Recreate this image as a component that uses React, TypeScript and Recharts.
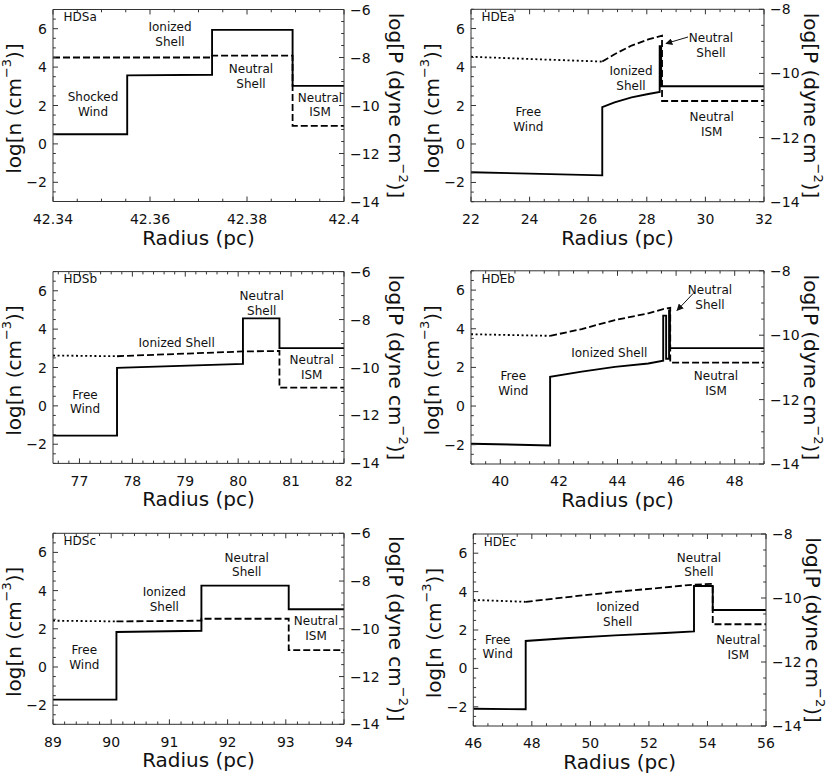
import React from 'react';
import { ComposedChart, Line, XAxis, YAxis, ReferenceLine } from 'recharts';

type Pt = { r: number; v: number };

// log n (left axis) and log P (right axis) against radius
const hdsaDensity: Pt[] = [
  { r: 42.34, v: 0.5 }, { r: 42.3553, v: 0.5 }, { r: 42.3553, v: 3.57 }, { r: 42.3728, v: 3.6 },
  { r: 42.3728, v: 5.94 }, { r: 42.3894, v: 5.94 }, { r: 42.3894, v: 3.02 }, { r: 42.4, v: 3.02 },
];
const hdsaShellP: Pt[] = [
  { r: 42.34, v: -8.0 }, { r: 42.3728, v: -8.0 }, { r: 42.3728, v: -7.92 }, { r: 42.3894, v: -7.92 },
  { r: 42.3894, v: -10.85 }, { r: 42.4, v: -10.85 },
];

const hdeaDensity: Pt[] = [
  { r: 22, v: -1.47 }, { r: 24, v: -1.54 }, { r: 26.48, v: -1.63 }, { r: 26.48, v: 1.92 },
  { r: 26.9, v: 2.16 }, { r: 27.48, v: 2.42 }, { r: 28.05, v: 2.6 }, { r: 28.44, v: 2.7 },
  { r: 28.44, v: 5.08 }, { r: 28.49, v: 5.08 }, { r: 28.49, v: 3.0 }, { r: 32, v: 3.0 },
];
const hdeaWindP: Pt[] = [{ r: 22, v: -9.48 }, { r: 24, v: -9.55 }, { r: 26.48, v: -9.63 }];
const hdeaShellP: Pt[] = [
  { r: 26.48, v: -9.63 }, { r: 26.9, v: -9.4 }, { r: 27.48, v: -9.13 }, { r: 28.05, v: -8.94 },
  { r: 28.52, v: -8.82 }, { r: 28.52, v: -10.86 }, { r: 32, v: -10.86 },
];

const hdsbDensity: Pt[] = [
  { r: 76.5, v: -1.55 }, { r: 77.71, v: -1.55 }, { r: 77.71, v: 1.98 }, { r: 80.09, v: 2.19 },
  { r: 80.09, v: 4.56 }, { r: 80.78, v: 4.56 }, { r: 80.78, v: 3.01 }, { r: 82, v: 3.01 },
];
const hdsbWindP: Pt[] = [{ r: 76.5, v: -9.5 }, { r: 77.71, v: -9.53 }];
const hdsbShellP: Pt[] = [
  { r: 77.71, v: -9.53 }, { r: 80.09, v: -9.33 }, { r: 80.78, v: -9.31 }, { r: 80.78, v: -10.84 },
  { r: 82, v: -10.84 },
];

const hdebDensity: Pt[] = [
  { r: 39, v: -1.95 }, { r: 41.7, v: -2.04 }, { r: 41.7, v: 1.51 }, { r: 42.78, v: 1.78 },
  { r: 43.91, v: 2.03 }, { r: 45.05, v: 2.2 }, { r: 45.56, v: 2.35 }, { r: 45.56, v: 4.68 },
  { r: 45.66, v: 4.68 }, { r: 45.66, v: 2.45 }, { r: 45.76, v: 2.45 }, { r: 45.76, v: 4.95 },
  { r: 45.79, v: 4.95 }, { r: 45.79, v: 3.0 }, { r: 49, v: 3.0 },
];
const hdebWindP: Pt[] = [{ r: 39, v: -9.97 }, { r: 41.7, v: -10.02 }];
const hdebShellP: Pt[] = [
  { r: 41.7, v: -10.02 }, { r: 42.78, v: -9.81 }, { r: 43.91, v: -9.53 }, { r: 45.05, v: -9.32 },
  { r: 45.56, v: -9.19 }, { r: 45.8, v: -9.15 }, { r: 45.8, v: -10.85 }, { r: 49, v: -10.85 },
];

const hdscDensity: Pt[] = [
  { r: 89, v: -1.71 }, { r: 90.09, v: -1.71 }, { r: 90.09, v: 1.83 }, { r: 91.55, v: 1.9 },
  { r: 91.55, v: 4.26 }, { r: 93.05, v: 4.26 }, { r: 93.05, v: 3.02 }, { r: 94, v: 3.02 },
];
const hdscWindP: Pt[] = [{ r: 89, v: -9.66 }, { r: 90.09, v: -9.69 }];
const hdscShellP: Pt[] = [
  { r: 90.09, v: -9.69 }, { r: 91.55, v: -9.66 }, { r: 91.55, v: -9.58 }, { r: 93.05, v: -9.58 },
  { r: 93.05, v: -10.89 }, { r: 94, v: -10.89 },
];

const hdecDensity: Pt[] = [
  { r: 46, v: -2.1 }, { r: 47.79, v: -2.13 }, { r: 47.79, v: 1.43 }, { r: 49.13, v: 1.57 },
  { r: 50.84, v: 1.72 }, { r: 52.55, v: 1.84 }, { r: 53.54, v: 1.93 }, { r: 53.54, v: 4.29 },
  { r: 54.18, v: 4.29 }, { r: 54.18, v: 3.04 }, { r: 56, v: 3.04 },
];
const hdecWindP: Pt[] = [{ r: 46, v: -10.06 }, { r: 47.79, v: -10.12 }];
const hdecShellP: Pt[] = [
  { r: 47.79, v: -10.12 }, { r: 49.13, v: -9.98 }, { r: 50.84, v: -9.81 }, { r: 52.55, v: -9.67 },
  { r: 53.54, v: -9.58 }, { r: 54.18, v: -9.56 }, { r: 54.18, v: -10.82 }, { r: 56, v: -10.82 },
];

// tick labels
const nTicks = [-2, 0, 2, 4, 6];
const pTicksS = [-14, -12, -10, -8, -6];
const pTicksE = [-14, -12, -10, -8];
const hdsaXTicks = [42.34, 42.36, 42.38, 42.4];
const hdeaXTicks = [22, 24, 26, 28, 30, 32];
const hdsbXTicks = [77, 78, 79, 80, 81, 82];
const hdebXTicks = [40, 42, 44, 46, 48];
const hdscXTicks = [89, 90, 91, 92, 93, 94];
const hdecXTicks = [46, 48, 50, 52, 54, 56];

const AXIS = '#333';
const FONT = '"DejaVu Sans", sans-serif';
const W = 415;
const H = 262;
const nDomain: [number, number] = [-3, 7];

type Note = { x: number; y: number; lines: string[]; anchor?: 'start' | 'middle' };

interface PanelDef {
  name: string;
  left: number;
  top: number;
  margin: { top: number; right: number; bottom: number; left: number };
  xDomain: [number, number];
  xTicks: number[];
  xMinor: number;
  pDomain: [number, number];
  pTicks: number[];
  density: Pt[];
  windP?: Pt[];
  shellP: Pt[];
  rightDx: number;
  notes: Note[];
  arrow?: [number, number, number, number];
}

// margin = outer edge of the plot frame inside each 415x262 cell
const panels: PanelDef[] = [
  {
    name: 'HDSa', left: 0, top: 0, margin: { top: 9.5, right: 71, bottom: 60.5, left: 53 },
    xDomain: [42.34, 42.4], xTicks: hdsaXTicks, xMinor: 0.005, pDomain: [-14, -6], pTicks: pTicksS,
    density: hdsaDensity, shellP: hdsaShellP, rightDx: 52,
    notes: [
      { x: 170, y: 26.7, lines: ['Ionized', 'Shell'] },
      { x: 251, y: 69, lines: ['Neutral', 'Shell'] },
      { x: 93, y: 97, lines: ['Shocked', 'Wind'] },
      { x: 320, y: 97.3, lines: ['Neutral', 'ISM'] },
    ],
  },
  {
    name: 'HDEa', left: 415, top: 0, margin: { top: 9.3, right: 66, bottom: 60.3, left: 56 },
    xDomain: [22, 32], xTicks: hdeaXTicks, xMinor: 0.5, pDomain: [-14, -8], pTicks: pTicksE,
    density: hdeaDensity, windP: hdeaWindP, shellP: hdeaShellP, rightDx: 47,
    notes: [
      { x: 296, y: 37.7, lines: ['Neutral', 'Shell'] },
      { x: 216, y: 70.7, lines: ['Ionized', 'Shell'] },
      { x: 113.3, y: 111.7, lines: ['Free', 'Wind'] },
      { x: 296.7, y: 116.7, lines: ['Neutral', 'ISM'] },
    ],
    arrow: [273, 37, 251, 43.5],
  },
  {
    name: 'HDSb', left: 0, top: 262, margin: { top: 9.6, right: 71, bottom: 60.6, left: 53 },
    xDomain: [76.5, 82], xTicks: hdsbXTicks, xMinor: 0.2, pDomain: [-14, -6], pTicks: pTicksS,
    density: hdsbDensity, windP: hdsbWindP, shellP: hdsbShellP, rightDx: 52,
    notes: [
      { x: 261.7, y: 33.7, lines: ['Neutral', 'Shell'] },
      { x: 176.7, y: 80.3, lines: ['Ionized Shell'] },
      { x: 311.7, y: 98, lines: ['Neutral', 'ISM'] },
      { x: 85, y: 132.3, lines: ['Free', 'Wind'] },
    ],
  },
  {
    name: 'HDEb', left: 415, top: 262, margin: { top: 8.8, right: 66, bottom: 60, left: 56 },
    xDomain: [39, 49], xTicks: hdebXTicks, xMinor: 0.5, pDomain: [-14, -8], pTicks: pTicksE,
    density: hdebDensity, windP: hdebWindP, shellP: hdebShellP, rightDx: 47,
    notes: [
      { x: 295, y: 28, lines: ['Neutral', 'Shell'] },
      { x: 194.3, y: 90.7, lines: ['Ionized Shell'] },
      { x: 98.3, y: 113.7, lines: ['Free', 'Wind'] },
      { x: 301, y: 113.7, lines: ['Neutral', 'ISM'] },
    ],
    arrow: [278.3, 31.3, 262, 48.5],
  },
  {
    name: 'HDSc', left: 0, top: 524, margin: { top: 9.3, right: 71, bottom: 61.7, left: 53 },
    xDomain: [89, 94], xTicks: hdscXTicks, xMinor: 0.2, pDomain: [-14, -6], pTicks: pTicksS,
    density: hdscDensity, windP: hdscWindP, shellP: hdscShellP, rightDx: 52,
    notes: [
      { x: 246.7, y: 33.3, lines: ['Neutral', 'Shell'] },
      { x: 164.3, y: 67.7, lines: ['Ionized', 'Shell'] },
      { x: 316, y: 97, lines: ['Neutral', 'ISM'] },
      { x: 84.3, y: 126, lines: ['Free', 'Wind'] },
    ],
  },
  {
    name: 'HDEc', left: 415, top: 524, margin: { top: 10, right: 64, bottom: 60, left: 58.3 },
    xDomain: [46, 56], xTicks: hdecXTicks, xMinor: 0.5, pDomain: [-14, -8], pTicks: pTicksE,
    density: hdecDensity, windP: hdecWindP, shellP: hdecShellP, rightDx: 47,
    notes: [
      { x: 284, y: 33.3, lines: ['Neutral', 'Shell'] },
      { x: 202.7, y: 82.7, lines: ['Ionized', 'Shell'] },
      { x: 82.7, y: 115.3, lines: ['Free', 'Wind'] },
      { x: 323.3, y: 116, lines: ['Neutral', 'ISM'] },
    ],
  },
];

const fmt = (v: number) => (v < 0 ? '\u2212' : '') + String(Math.abs(+v.toFixed(4)));

function withMinor(major: number[], [a, b]: [number, number], step: number) {
  const out: number[] = [...major];
  for (let k = Math.ceil(a / step - 1e-6); k * step <= b + 1e-9; k++) {
    const t = +(k * step).toFixed(6);
    if (!out.some((m) => Math.abs(m - t) < 1e-7)) out.push(t);
  }
  return out.sort((x, y) => x - y);
}

const isIn = (list: number[], v: number) => list.some((m) => Math.abs(m - v) < 1e-7);

function makeXTick(major: number[], plotTop: number) {
  return (props: any) => {
    const { x, y, payload } = props;
    const big = isIn(major, payload.value);
    const len = big ? 5 : 2.8;
    return (
      <g>
        <line x1={x} x2={x} y1={y} y2={y - len} stroke={AXIS} />
        <line x1={x} x2={x} y1={plotTop} y2={plotTop + len} stroke={AXIS} />
        {big && (
          <text x={x} y={y + 22.4} textAnchor="middle" fontSize={14} fontFamily={FONT} fill="#111">
            {fmt(payload.value)}
          </text>
        )}
      </g>
    );
  };
}

function makeYTick(major: number[], side: 'left' | 'right') {
  return (props: any) => {
    const { x, y, payload } = props;
    const big = isIn(major, payload.value);
    const len = big ? 5 : 2.8;
    const s = side === 'left' ? 1 : -1;
    return (
      <g>
        <line x1={x} x2={x + s * len} y1={y} y2={y} stroke={AXIS} />
        {big && (
          <text x={x - s * 6} y={y + 5} textAnchor={side === 'left' ? 'end' : 'start'} fontSize={14} fontFamily={FONT} fill="#111">
            {fmt(payload.value)}
          </text>
        )}
      </g>
    );
  };
}

function Panel({ p }: { p: PanelDef }) {
  const { margin } = p;
  const plotL = margin.left;
  const plotR = W - margin.right;
  const plotB = H - margin.bottom;
  const midY = (margin.top + plotB) / 2;
  const xAll = withMinor(p.xTicks, p.xDomain, p.xMinor);
  const nAll = withMinor(nTicks, nDomain, 0.5);
  const pAll = withMinor(p.pTicks, p.pDomain, 0.5);
  // axes are 1px thick, so the margins shrink by 1 to keep the frame in place
  const chartMargin = { top: margin.top, right: margin.right - 1, bottom: margin.bottom - 1, left: margin.left - 1 };
  const common = { interval: 0 as const, tickSize: 0, tickMargin: 0, tickLine: false, allowDataOverflow: true, axisLine: { stroke: AXIS } };
  return (
    <div style={{ position: 'absolute', left: p.left, top: p.top, width: W, height: H }}>
      <ComposedChart width={W} height={H} margin={chartMargin}>
        <XAxis xAxisId="x" type="number" dataKey="r" domain={p.xDomain} ticks={xAll} height={1} tick={makeXTick(p.xTicks, margin.top)} {...common} />
        <YAxis yAxisId="n" orientation="left" type="number" domain={nDomain} ticks={nAll} width={1} tick={makeYTick(nTicks, 'left')} {...common} />
        <YAxis yAxisId="p" orientation="right" type="number" domain={p.pDomain} ticks={pAll} width={1} tick={makeYTick(p.pTicks, 'right')} {...common} />
        <ReferenceLine xAxisId="x" yAxisId="n" y={nDomain[1]} stroke={AXIS} />
        {p.windP && (
          <Line xAxisId="x" yAxisId="p" data={p.windP} dataKey="v" type="linear" stroke="#000" strokeWidth={1.8} strokeDasharray="2 2.6" dot={false} isAnimationActive={false} />
        )}
        <Line xAxisId="x" yAxisId="p" data={p.shellP} dataKey="v" type="linear" stroke="#000" strokeWidth={1.8} strokeDasharray="7 3" dot={false} isAnimationActive={false} />
        <Line xAxisId="x" yAxisId="n" data={p.density} dataKey="v" type="linear" stroke="#000" strokeWidth={1.9} dot={false} isAnimationActive={false} />
      </ComposedChart>
      <svg width={W} height={H} style={{ position: 'absolute', left: 0, top: 0, overflow: 'visible', pointerEvents: 'none' }} fontFamily={FONT} fill="#111">
        <defs>
          <marker id={`ah-${p.name}`} viewBox="0 0 10 10" refX="9" refY="5" markerWidth="7" markerHeight="7" orient="auto">
            <path d="M0,0 L10,5 L0,10 z" fill="#111" />
          </marker>
        </defs>
        <text x={plotL + 10.5} y={margin.top + 11.7} fontSize={12}>{p.name}</text>
        {p.notes.map((n, i) => (
          <text key={i} x={n.x} y={n.y + 4.3} textAnchor={n.anchor || 'middle'} fontSize={12}>
            {n.lines.map((l, j) => (
              <tspan key={j} x={n.x} dy={j === 0 ? 0 : 14.7}>{l}</tspan>
            ))}
          </text>
        ))}
        {p.arrow && (
          <line x1={p.arrow[0]} y1={p.arrow[1]} x2={p.arrow[2]} y2={p.arrow[3]} stroke="#111" strokeWidth={1} markerEnd={`url(#ah-${p.name})`} />
        )}
        <text x={(plotL + plotR) / 2} y={plotB + 43} textAnchor="middle" fontSize={20}>Radius (pc)</text>
        <text transform={`translate(${plotL - 39},${midY + 3}) rotate(-90)`} textAnchor="middle" dominantBaseline="central" fontSize={20}>
          log[n (cm<tspan fontSize={13} dy={-8}>{'\u22123'}</tspan><tspan dy={8}>)]</tspan>
        </text>
        <text transform={`translate(${plotR + p.rightDx},${midY}) rotate(90)`} textAnchor="middle" dominantBaseline="central" fontSize={20}>
          log[P (dyne cm<tspan fontSize={13} dy={-8}>{'\u22122'}</tspan><tspan dy={8}>)]</tspan>
        </text>
      </svg>
    </div>
  );
}

export default function App() {
  return (
    <div style={{ position: 'absolute', left: 0, top: 0, width: 830, height: 776, background: '#fff' }}>
      {panels.map((p) => (
        <Panel key={p.name} p={p} />
      ))}
    </div>
  );
}
